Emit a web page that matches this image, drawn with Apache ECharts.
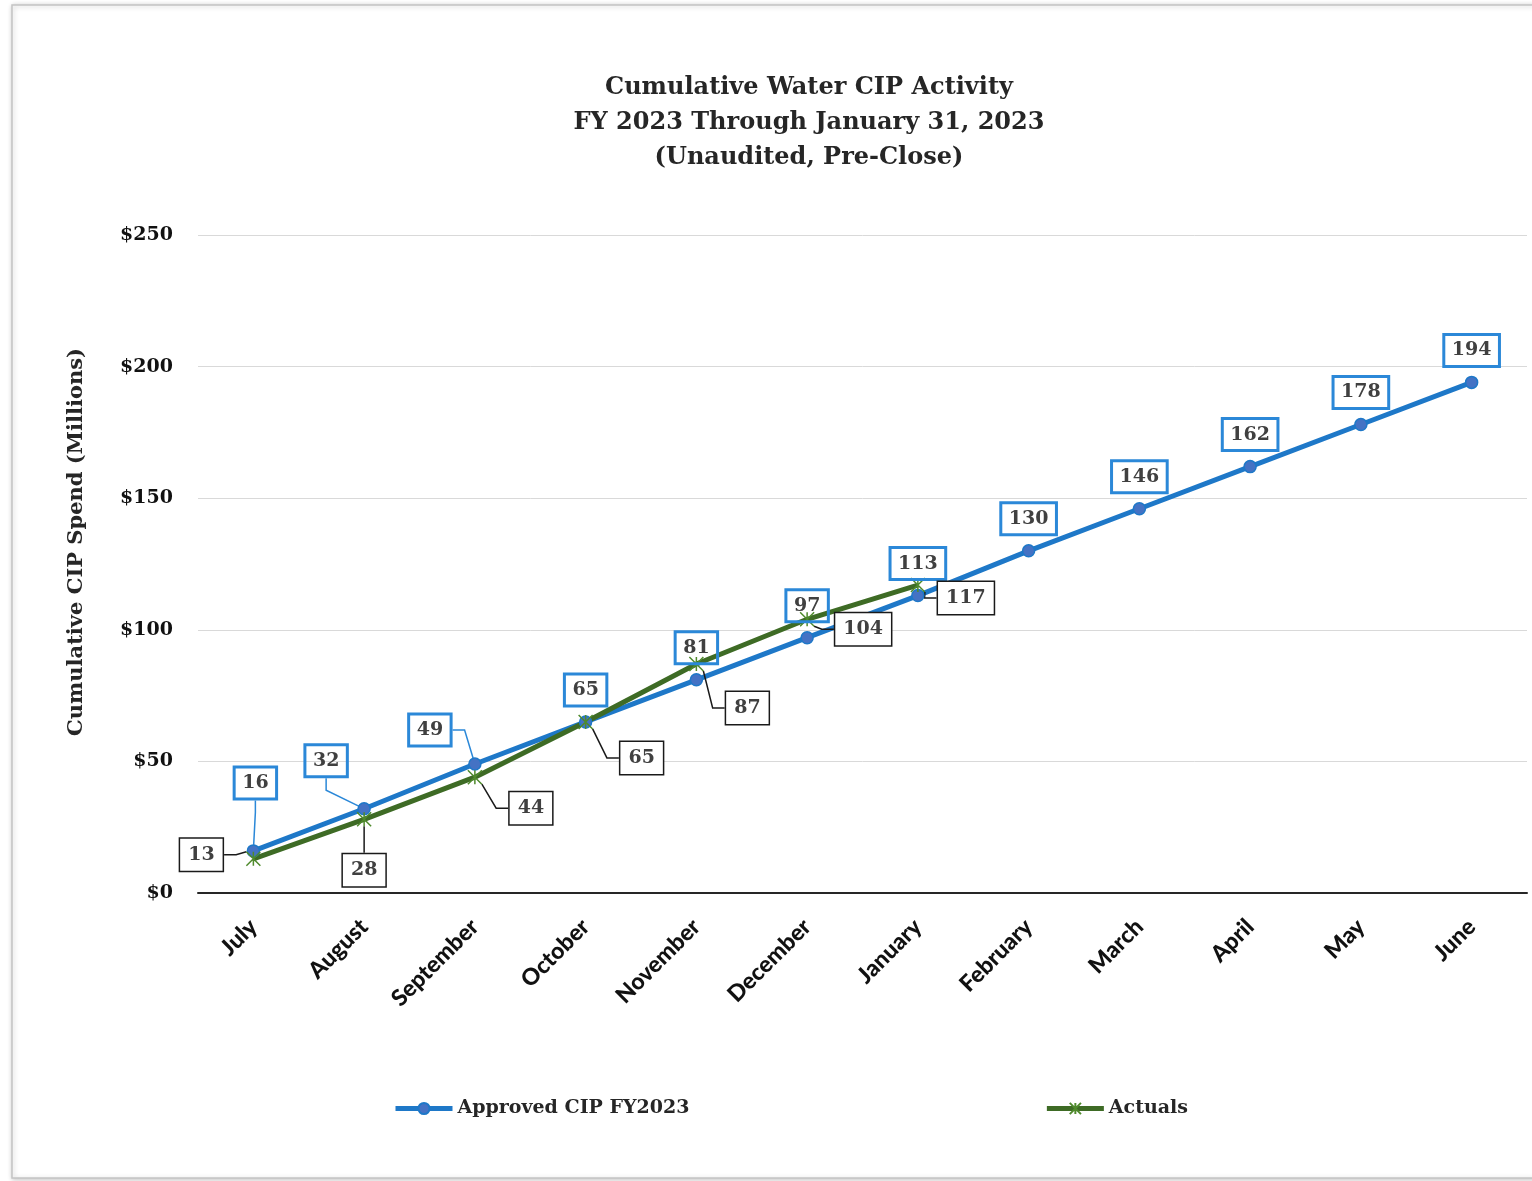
<!DOCTYPE html>
<html>
<head>
<meta charset="utf-8">
<title>Cumulative Water CIP Activity</title>
<script src="https://cdn.jsdelivr.net/npm/echarts@6/dist/echarts.min.js"></script>
<style>
  html, body { margin: 0; padding: 0; background: #ffffff; }
  #chart { width: 1532px; height: 1181px; }
</style>
</head>
<body>
<div id="chart"></div>
<script>
// Fiscal-year months and cumulative spend, $ millions
const months = ['July', 'August', 'September', 'October', 'November', 'December',
                'January', 'February', 'March', 'April', 'May', 'June'];
const approvedCip = [16, 32, 49, 65, 81, 97, 113, 130, 146, 162, 178, 194];
const actuals = [13, 28, 44, 65, 87, 104, 117];
const seriesNames = ['Approved CIP FY2023', 'Actuals'];
const titleLines = ['Cumulative Water CIP Activity',
                    'FY 2023 Through January 31, 2023',
                    '(Unaudited, Pre-Close)'];
const yAxisTitle = 'Cumulative CIP Spend (Millions)';

// Callout placement: label-box centre relative to its point, in pixels
const approvedCallout = [[2, -68], [-38, -48], [-45, -34]];
const actualCallout = [[-52, -4], [0, 51], [56, 31], [56, 36], [51, 44], [56, 10], [48, 13]];

const SERIF = '"DejaVu Serif", "Liberation Serif", serif';
const SANS = 'Lato, "Open Sans", sans-serif';
const BLUE = '#1E78C8';
const GREEN = '#3E6B25';

const chart = echarts.init(document.getElementById('chart'), null, { renderer: 'canvas' });

const calloutShift = (table, fallback) => (p) => {
  const s = table[p.dataIndex] || fallback;
  return { dx: s[0], dy: s[1] };
};

const approvedData = approvedCip.map((v, i) => ({
  value: v,
  labelLine: { show: i < approvedCallout.length }
}));

const labelBase = {
  show: true,
  position: 'inside',
  fontFamily: SERIF,
  fontWeight: 'bold',
  fontSize: 19,
  color: '#404040',
  padding: [5, 8, 5, 8],
  lineHeight: 22
};

chart.setOption({
  animation: false,
  backgroundColor: '#ffffff',
  graphic: [
    {
      type: 'rect',
      z: -10,
      shape: { x: 12, y: 5, width: 1540, height: 1173 },
      style: {
        fill: '#ffffff',
        stroke: '#c4c4c4',
        lineWidth: 1.5,
        shadowBlur: 5,
        shadowColor: 'rgba(0,0,0,0.22)',
        shadowOffsetX: 1,
        shadowOffsetY: 1
      }
    },
    {
      type: 'text',
      x: 809,
      y: 70,
      style: {
        text: titleLines.join('\n'),
        align: 'center',
        verticalAlign: 'top',
        fontFamily: SERIF,
        fontWeight: 'bold',
        fontSize: 24,
        lineHeight: 35,
        fill: '#262626'
      }
    },
    {
      type: 'text',
      x: 77,
      y: 542,
      rotation: Math.PI / 2,
      style: {
        text: yAxisTitle,
        align: 'center',
        verticalAlign: 'middle',
        fontFamily: SERIF,
        fontWeight: 'bold',
        fontSize: 21,
        fill: '#262626'
      }
    }
  ],
  grid: { left: 198, right: 5, top: 235, bottom: 288, containLabel: false },
  legend: {
    data: seriesNames,
    left: 388,
    top: 1094,
    itemGap: 355,
    itemWidth: 57,
    itemHeight: 14,
    lineStyle: { width: 5 },
    textStyle: { fontFamily: SERIF, fontWeight: 'bold', fontSize: 19, color: '#262626' }
  },
  xAxis: {
    type: 'category',
    data: months,
    boundaryGap: true,
    axisLine: { lineStyle: { color: '#262626', width: 2 } },
    axisTick: { show: false },
    axisLabel: {
      interval: 0,
      rotate: 45,
      margin: 30,
      fontFamily: SANS,
      fontWeight: 900,
      fontSize: 23,
      color: '#111111'
    }
  },
  yAxis: {
    type: 'value',
    min: 0,
    max: 250,
    interval: 50,
    axisLine: { show: false },
    axisTick: { show: false },
    splitLine: { lineStyle: { color: '#d9d9d9', width: 1 } },
    axisLabel: {
      margin: 25,
      formatter: '${value}',
      fontFamily: SERIF,
      fontWeight: 'bold',
      fontSize: 19,
      color: '#111111'
    }
  },
  series: [
    {
      name: seriesNames[0],
      type: 'line',
      data: approvedData,
      symbol: 'circle',
      symbolSize: 12,
      lineStyle: { color: BLUE, width: 5 },
      itemStyle: { color: '#4472C4', borderColor: BLUE, borderWidth: 1.5 },
      label: Object.assign({}, labelBase, {
        borderColor: '#2B88D8',
        borderWidth: 1.5,
        backgroundColor: 'transparent'
      }),
      labelLayout: calloutShift(approvedCallout, [0, -32]),
      labelLine: {
        show: false,
        length2: 12,
        lineStyle: { color: '#2B88D8', width: 1.5 }
      }
    },
    {
      name: seriesNames[1],
      type: 'line',
      data: actuals,
      symbol: 'path://M0 0L10 10M10 0L0 10M5 0L5 10',
      symbolSize: 14,
      lineStyle: { color: GREEN, width: 5 },
      itemStyle: { color: '#4F8A2C', borderColor: '#4F8A2C', borderWidth: 1.5 },
      label: Object.assign({}, labelBase, {
        borderColor: '#1a1a1a',
        borderWidth: 1.5,
        backgroundColor: '#ffffff'
      }),
      labelLayout: calloutShift(actualCallout, [50, 20]),
      labelLine: {
        show: true,
        length2: 12,
        lineStyle: { color: '#1a1a1a', width: 1.5 }
      }
    }
  ]
});
</script>
</body>
</html>
